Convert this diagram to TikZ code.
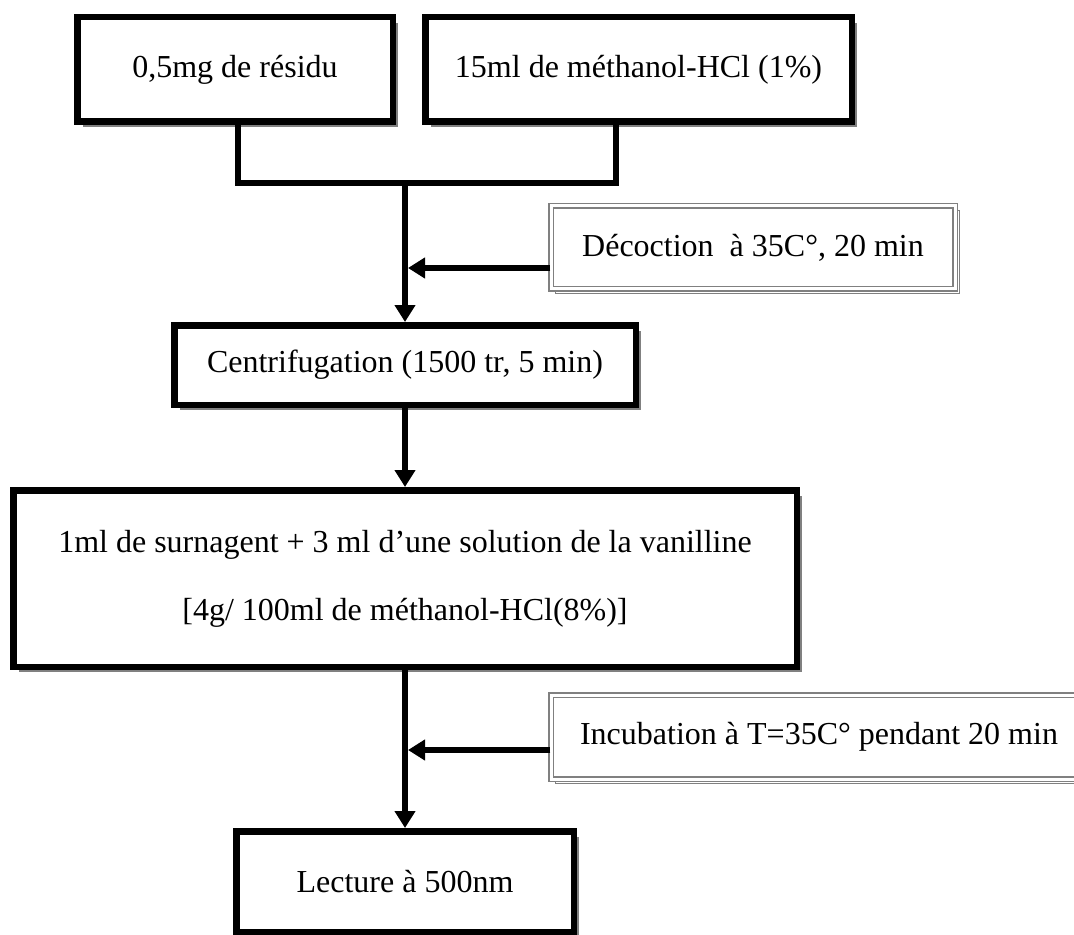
\documentclass[tikz,border=0pt]{standalone}
\usepackage{fontspec}
\setmainfont{Liberation Serif}
\usetikzlibrary{arrows.meta,shadows}

\begin{document}
\begin{tikzpicture}[x=0.5pt,y=-0.5pt,
  every node/.style={font=\fontsize{16}{19}\selectfont, inner sep=0pt},
  procbox/.style={draw, line width=3.25pt, fill=white,
    drop shadow={shadow xshift=2.75pt, shadow yshift=-2.75pt, fill=gray, opacity=1}},
  condbox/.style={draw=gray, line width=0.75pt, double=white, double distance=1.5pt, fill=white,
    copy shadow={shadow xshift=2.25pt, shadow yshift=-2.25pt}},
  link/.style={line width=3pt},
  flow/.style={link, -{Triangle[width=10pt,length=8.5pt]}}]
\useasboundingbox (0,0) rectangle (1074,935);

% boxes
\node[procbox, minimum width=157.75pt, minimum height=52.25pt] (resid) at (235,69.5) {0,5mg de résidu};
\node[procbox, minimum width=213.25pt, minimum height=52.25pt] (metha) at (638.5,69.5) {15ml de méthanol-HCl (1\%)};
\node[condbox, minimum width=202pt, minimum height=41.5pt] (decoc) at (753,247.5) {Décoction\ \ à 35C°, 20 min};
\node[procbox, minimum width=230.75pt, minimum height=39.75pt] (centri) at (405,365) {Centrifugation (1500 tr, 5 min)};
\node[procbox, minimum width=391.75pt, minimum height=88.25pt, align=center,
  font=\fontsize{16}{34}\selectfont] (surnag) at (405,578.5)
  {1ml de surnagent + 3 ml d’une solution de la vanilline\\ {[}4g/ 100ml de méthanol-HCl(8\%)]};
\node[condbox, minimum width=268pt, minimum height=42pt] (incub) at (819,737) {Incubation à T=35C° pendant 20 min};
\node[procbox, minimum width=168.75pt, minimum height=50.25pt] (lect) at (405,881.5) {Lecture à 500nm};

% connectors
\coordinate (merge) at (405,183);
\coordinate (mjoin) at (616,183);
\coordinate (dtap) at (405,268);
\coordinate (itap) at (405,750);
\draw[link] ([xshift=1.5pt]resid.south) |- (mjoin) -- (mjoin |- metha.south);
\draw[flow] (merge) -- (centri.north);
\draw[flow, shorten >=1.5pt] (decoc.west |- dtap) -- (dtap);
\draw[flow] (centri.south) -- (surnag.north);
\draw[flow] (surnag.south) -- (lect.north);
\draw[flow, shorten >=1.5pt] (incub.west |- itap) -- (itap);
\end{tikzpicture}
\end{document}
